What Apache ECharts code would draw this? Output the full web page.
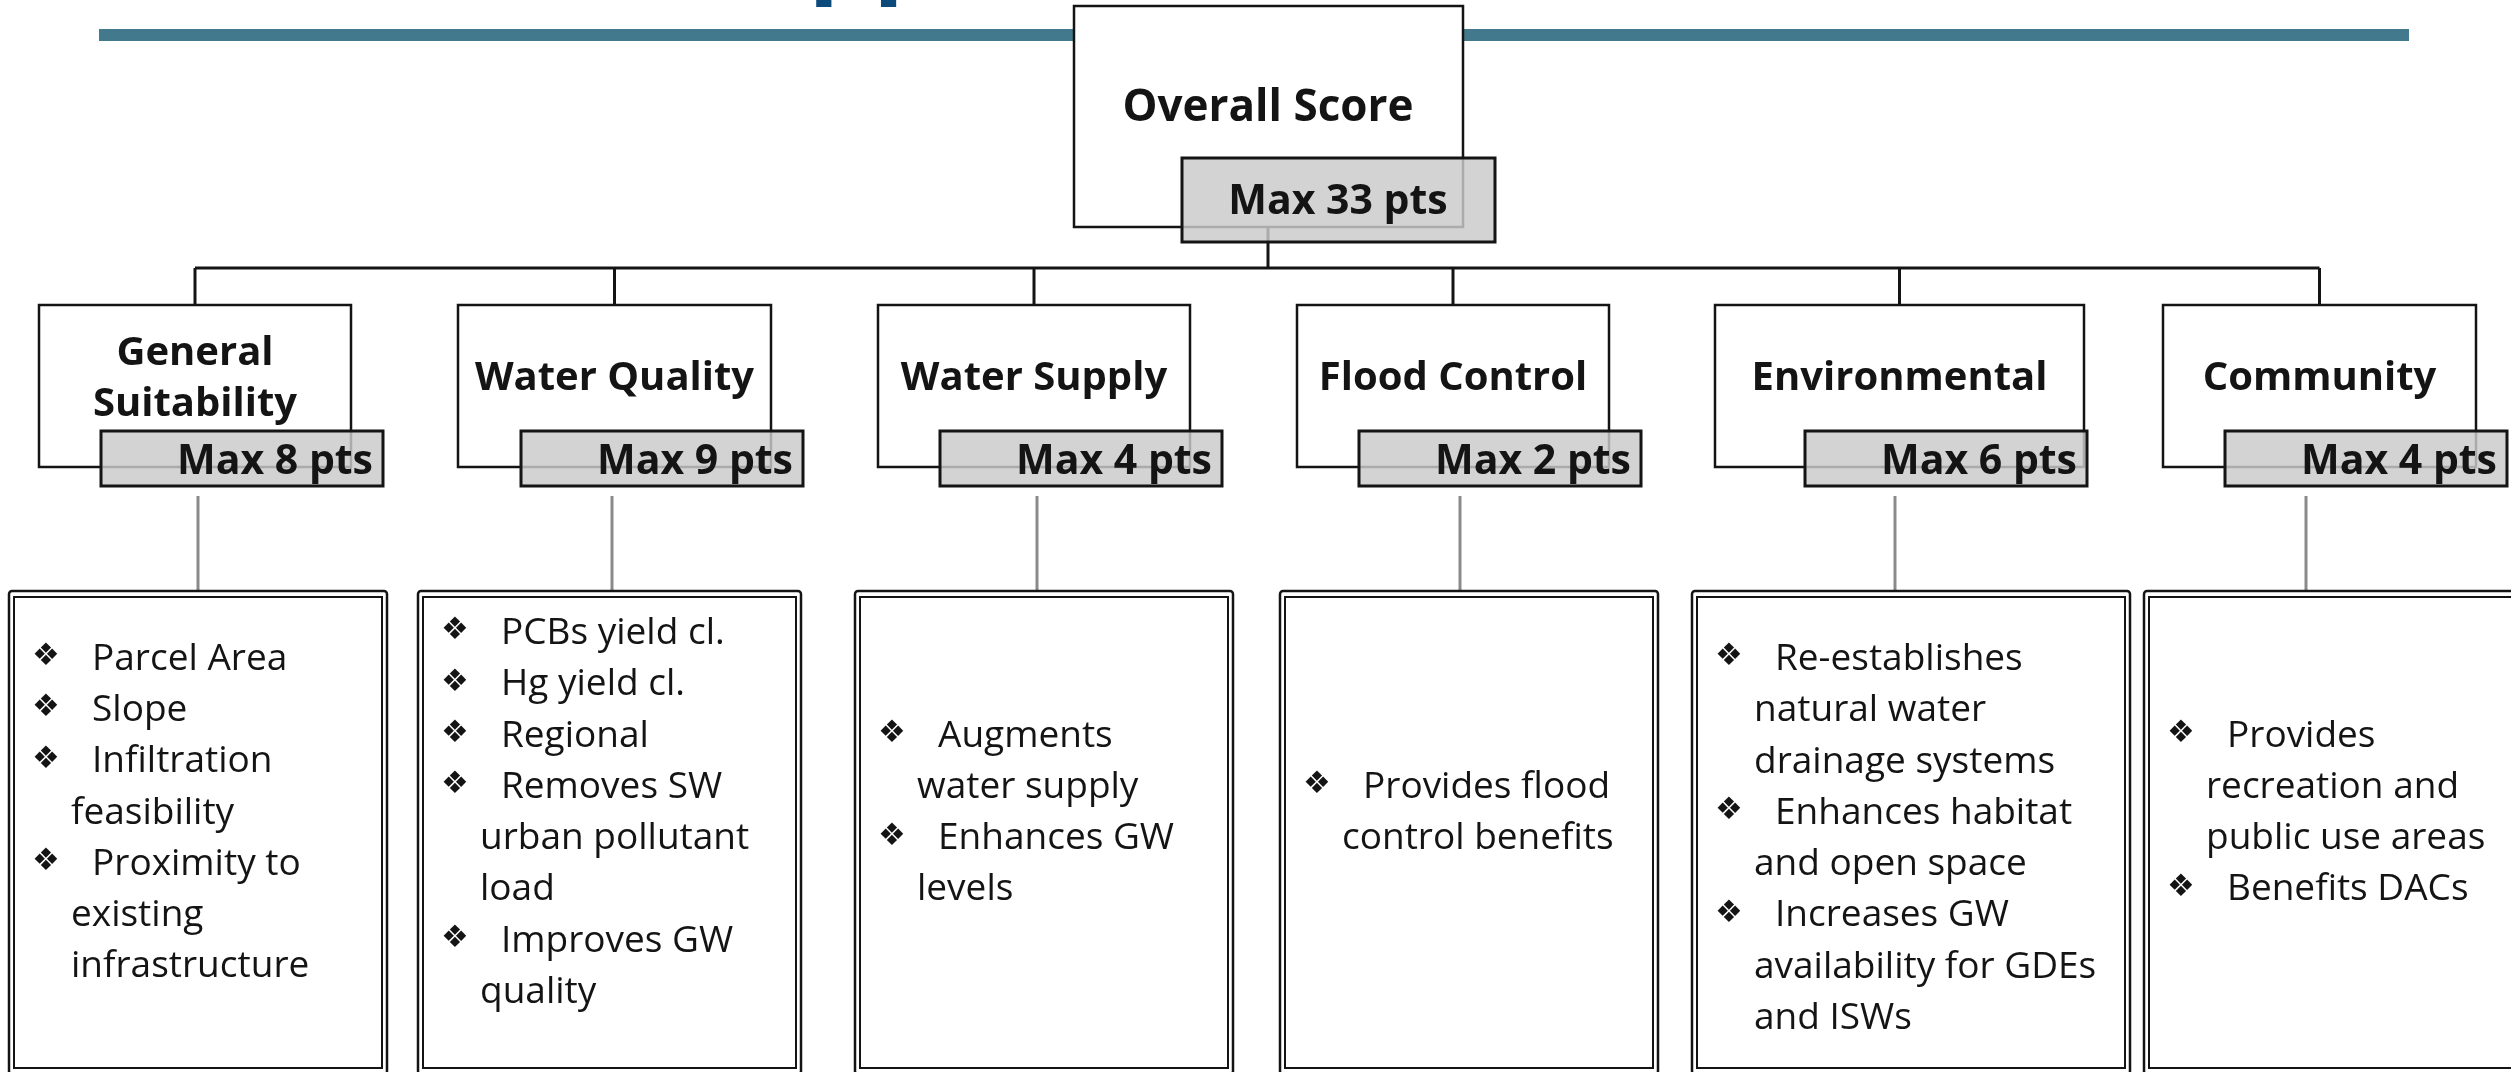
<!DOCTYPE html>
<html>
<head>
<meta charset="utf-8">
<script src="https://cdn.jsdelivr.net/npm/echarts@6/dist/echarts.min.js"></script>
<style>
  html, body {margin: 0; padding: 0; background: #fff;}
  #main {width: 2511px; height: 1072px;}
</style>
</head>
<body>
<div id="main"></div>
<script>
// scoring tree: overall -> categories -> criteria
var overallLabel = 'Overall Score';
var overallPoints = 33;
var categories = ['General\nSuitability', 'Water Quality', 'Water Supply', 'Flood Control', 'Environmental', 'Community'];
var maxPoints = [8, 9, 4, 2, 6, 4];
var criteria = [
  [['Parcel Area'], ['Slope'], ['Infiltration', 'feasibility'], ['Proximity to', 'existing', 'infrastructure']],
  [['PCBs yield cl.'], ['Hg yield cl.'], ['Regional'], ['Removes SW', 'urban pollutant', 'load'], ['Improves GW', 'quality']],
  [['Augments', 'water supply'], ['Enhances GW', 'levels']],
  [['Provides flood', 'control benefits']],
  [['Re-establishes', 'natural water', 'drainage systems'], ['Enhances habitat', 'and open space'], ['Increases GW', 'availability for GDEs', 'and ISWs']],
  [['Provides', 'recreation and', 'public use areas'], ['Benefits DACs']]
];

// layout in reference pixels (2511 x 1072 frame)
var catLeft = [39, 458, 878, 1297, 1715, 2163];
var catWidth = [312, 313, 312, 312, 369, 313];
var ptsLeft = [101, 521, 940, 1359, 1805, 2225];
var stemX = [198, 612, 1037, 1460, 1895, 2306];
var listLeft = [9, 418, 855, 1280, 1692, 2144];
var listRight = [387, 801, 1233, 1658, 2130, 2570];
var listMidY = [813, 813, 813, 813, 839, 813];

var FONT = '"Open Sans", "DejaVu Sans", sans-serif';
var INK = '#141414';
var GREY_FILL = 'rgba(202,202,202,0.83)';

function $(id) {return document.getElementById(id)}

var chart = echarts.init($('main'));

function P(api, x, y) {return api.coord([x, y])}

// top banner + overall node
function renderOverall(params, api) {
  var a = P(api, 1074, 6), b = P(api, 1463, 227);
  var g = P(api, 1182, 158), h = P(api, 1495, 242);
  var mid = P(api, 1268, 0)[0];
  return {
    type: 'group',
    children: [
      {type: 'text', style: {text: 'Approach', x: P(api, 738, 0)[0], y: P(api, 0, -47)[1],
        font: 'bold 102px ' + FONT, fill: '#0d4a7c', align: 'left', verticalAlign: 'middle'}},
      {type: 'rect', shape: {x: P(api, 99, 0)[0], y: P(api, 0, 29)[1], width: 2310, height: 12}, style: {fill: '#43798d'}},
      // stem from overall box down to the bus line
      {type: 'line', shape: {x1: mid, y1: b[1], x2: mid, y2: P(api, 0, 268)[1]}, style: {stroke: INK, lineWidth: 3}},
      {type: 'rect', shape: {x: a[0], y: a[1], width: b[0] - a[0], height: b[1] - a[1]}, style: {fill: '#fff', stroke: INK, lineWidth: 2.5}},
      {type: 'text', style: {text: overallLabel, x: mid, y: P(api, 0, 108)[1], font: 'bold 44px ' + FONT,
        fill: INK, align: 'center', verticalAlign: 'middle'}},
      {type: 'rect', shape: {x: g[0], y: g[1], width: h[0] - g[0], height: h[1] - g[1]}, style: {fill: GREY_FILL, stroke: INK, lineWidth: 3}},
      {type: 'text', style: {text: 'Max ' + overallPoints + ' pts', x: mid + 70, y: P(api, 0, 202)[1], font: 'bold 41px ' + FONT,
        fill: INK, align: 'center', verticalAlign: 'middle'}}
    ]
  };
}

// bus line across all categories
function renderBus(params, api) {
  var l = P(api, catLeft[0] + catWidth[0] / 2, 268);
  var r = P(api, catLeft[5] + catWidth[5] / 2, 268);
  return {type: 'line', shape: {x1: l[0], y1: l[1], x2: r[0], y2: r[1]}, style: {stroke: INK, lineWidth: 3}};
}

function renderCategory(params, api) {
  var i = api.value(0);
  var cx = catLeft[i] + catWidth[i] / 2;
  var top = P(api, catLeft[i], 305), bot = P(api, catLeft[i] + catWidth[i], 467);
  var g = P(api, ptsLeft[i], 431), h = P(api, ptsLeft[i] + 282, 486);
  var lines = categories[i].split('\n');
  var kids = [
    {type: 'line', shape: {x1: P(api, cx, 0)[0], y1: P(api, 0, 268)[1], x2: P(api, cx, 0)[0], y2: top[1]}, style: {stroke: INK, lineWidth: 3}},
    {type: 'rect', shape: {x: top[0], y: top[1], width: bot[0] - top[0], height: bot[1] - top[1]}, style: {fill: '#fff', stroke: INK, lineWidth: 2.5}}
  ];
  lines.forEach(function (t, k) {
    var y = 379 + (k - (lines.length - 1) / 2) * 51;
    kids.push({type: 'text', style: {text: t, x: P(api, cx, 0)[0], y: P(api, 0, y)[1], font: 'bold 40px ' + FONT,
      fill: INK, align: 'center', verticalAlign: 'middle'}});
  });
  kids.push({type: 'rect', shape: {x: g[0], y: g[1], width: h[0] - g[0], height: h[1] - g[1]}, style: {fill: GREY_FILL, stroke: INK, lineWidth: 3}});
  kids.push({type: 'text', style: {text: 'Max ' + maxPoints[i] + ' pts', x: h[0] - 10, y: P(api, 0, 462)[1], font: 'bold 41px ' + FONT,
    fill: INK, align: 'right', verticalAlign: 'middle'}});
  // grey stem to criteria box
  kids.push({type: 'line', shape: {x1: P(api, stemX[i], 0)[0], y1: P(api, 0, 496)[1], x2: P(api, stemX[i], 0)[0], y2: P(api, 0, 592)[1]},
    style: {stroke: '#8a8a8a', lineWidth: 3}});
  return {type: 'group', children: kids};
}

function renderCriteria(params, api) {
  var i = api.value(0);
  var a = P(api, listLeft[i], 591), b = P(api, listRight[i], 1074);
  var kids = [
    {type: 'rect', shape: {x: a[0], y: a[1], width: b[0] - a[0], height: b[1] - a[1], r: 3}, style: {fill: '#fff', stroke: INK, lineWidth: 2.5}},
    {type: 'rect', shape: {x: a[0] + 5, y: a[1] + 6, width: b[0] - a[0] - 10, height: P(api, 0, 1068)[1] - a[1] - 6}, style: {fill: 'none', stroke: INK, lineWidth: 2}}
  ];
  var rows = [];
  criteria[i].forEach(function (item) {
    item.forEach(function (t, k) {rows.push({text: t, first: k === 0})});
  });
  var step = 51.3;
  var y0 = listMidY[i] - (rows.length - 1) / 2 * step;
  rows.forEach(function (row, k) {
    var y = P(api, 0, y0 + k * step)[1];
    if (row.first) {
      kids.push({type: 'text', style: {text: '\u2756', x: P(api, listLeft[i] + 37, 0)[0], y: y - 2, font: '31px "DejaVu Sans"',
        fill: INK, align: 'center', verticalAlign: 'middle'}});
    }
    kids.push({type: 'text', style: {text: row.text, x: P(api, listLeft[i] + (row.first ? 83 : 62), 0)[0], y: y,
      font: '37px ' + FONT, fill: INK, align: 'left', verticalAlign: 'middle'}});
  });
  return {type: 'group', children: kids};
}

var idx = categories.map(function (c, i) {return [i]});

chart.setOption({
  animation: false,
  backgroundColor: '#fff',
  grid: {left: 0, right: 0, top: 0, bottom: 0},
  xAxis: {type: 'value', min: 0, max: 2511, show: false},
  yAxis: {type: 'value', min: 0, max: 1072, inverse: true, show: false},
  series: [
    {type: 'custom', name: 'bus', renderItem: renderBus, data: [[0]], silent: true, clip: false},
    {type: 'custom', name: 'overall', renderItem: renderOverall, data: [[0]], silent: true, clip: false},
    {type: 'custom', name: 'categories', renderItem: renderCategory, data: idx, silent: true, clip: false},
    {type: 'custom', name: 'criteria', renderItem: renderCriteria, data: idx, silent: true, clip: false}
  ]
});
</script>
</body>
</html>
